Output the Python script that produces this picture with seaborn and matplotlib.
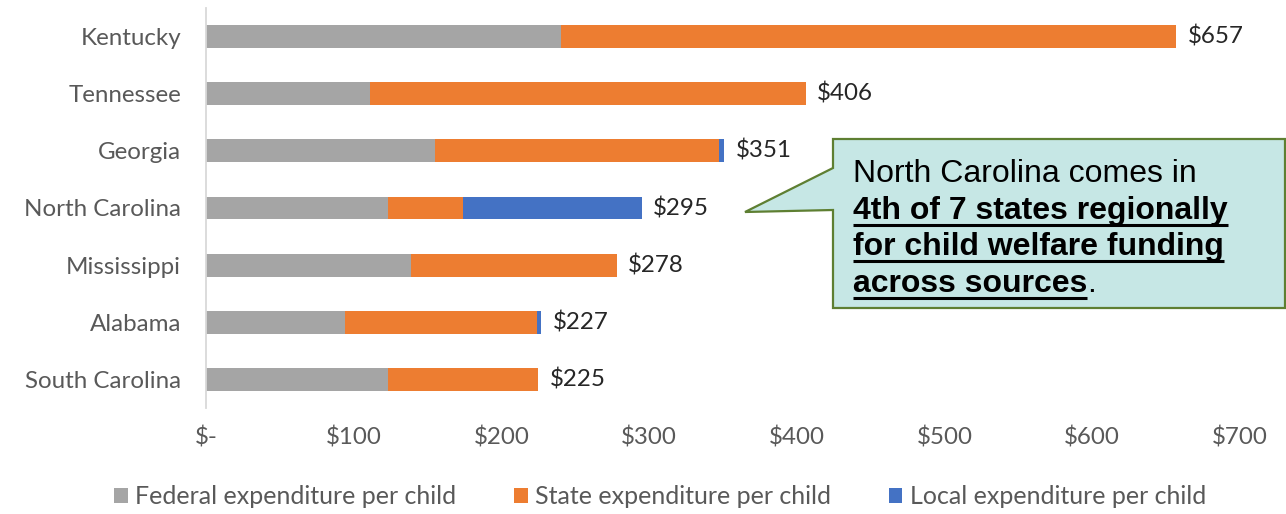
import matplotlib
matplotlib.use("Agg")
import matplotlib.pyplot as plt
import pandas as pd
import seaborn as sns
from matplotlib.patches import Patch, Polygon
from matplotlib.lines import Line2D

# Per-child child welfare expenditure by source, regional states
states = ["Kentucky", "Tennessee", "Georgia", "North Carolina",
          "Mississippi", "Alabama", "South Carolina"]
federal = [240, 111, 155, 123, 139, 94, 123]
state_exp = [417, 295, 192, 51, 139, 130, 102]
local = [0, 0, 4, 121, 0, 3, 0]
total_labels = [657, 406, 351, 295, 278, 227, 225]

x_ticks = [0, 100, 200, 300, 400, 500, 600, 700]
x_tick_labels = ["$-", "$100", "$200", "$300", "$400", "$500", "$600", "$700"]
series_names = ["Federal expenditure per child",
                "State expenditure per child",
                "Local expenditure per child"]

GRAY = "#A5A5A5"
ORANGE = "#ED7D31"
BLUE = "#4472C4"
TEXT = "#595959"
FS = 17.4

df = pd.DataFrame({"state": states, "federal": federal,
                   "state_exp": state_exp, "local": local})
df["fed_state"] = df["federal"] + df["state_exp"]
df["total"] = df["fed_state"] + df["local"]

sns.set_theme(style="white")
plt.rcParams["font.family"] = ["Lato", "DejaVu Sans"]

W, H = 1286, 514
fig = plt.figure(figsize=(W / 100, H / 100), dpi=100)
ax = fig.add_axes([206 / W, 1 - 408 / H, 1034 / W, 400 / H])

# Stacked bars drawn as overlapping cumulative totals
for col, colour in [("total", BLUE), ("fed_state", ORANGE), ("federal", GRAY)]:
    sns.barplot(data=df, y="state", x=col, order=states, color=colour,
                width=0.4, orient="h", ax=ax, saturation=1,
                linewidth=0, errorbar=None)

ax.bar_label(ax.containers[0], labels=[f"${v}" for v in total_labels],
             padding=8, fontsize=FS, color="#262626")

ax.set_xlim(0, 700)
ax.set_xticks(x_ticks)
ax.set_xticklabels(x_tick_labels)
ax.set_xlabel("")
ax.set_ylabel("")
ax.tick_params(axis="x", length=0, pad=13.5, labelsize=FS, labelcolor=TEXT)
ax.tick_params(axis="y", length=0, pad=18, labelsize=FS, labelcolor=TEXT)
for side in ["top", "right", "bottom"]:
    ax.spines[side].set_visible(False)
ax.spines["left"].set_color("#D9D9D9")
ax.spines["left"].set_linewidth(1.3)
ax.grid(False)

handles = [Patch(facecolor=c, edgecolor="none", label=n)
           for c, n in zip([GRAY, ORANGE, BLUE], series_names)]
fig.legend(handles=handles, loc="center", bbox_to_anchor=(660 / W, 1 - 497 / H),
           ncol=3, frameon=False, fontsize=18, handlelength=0.55,
           handleheight=0.55, handletextpad=0.3, columnspacing=2.3,
           labelcolor=TEXT)

# Callout box with pointer toward North Carolina's bar
pts = [(833, 139), (1285, 139), (1285, 308), (833, 308),
       (833, 210), (745, 212), (833, 168)]
poly = Polygon([(x / W, 1 - y / H) for x, y in pts], closed=True,
               transform=fig.transFigure, facecolor="#C6E7E5",
               edgecolor="#5E7F32", linewidth=1.6, zorder=5)
fig.add_artist(poly)

box_font = ["Liberation Sans", "DejaVu Sans"]
tx = 853 / W
lines = [("North Carolina comes in", "normal", False, 182),
         ("4th of 7 states regionally", "bold", True, 219),
         ("for child welfare funding", "bold", True, 255),
         ("across sources", "bold", True, 292)]
texts = []
for s, weight, under, base in lines:
    t = fig.text(tx, 1 - base / H, s, fontsize=23, fontweight=weight,
                 family=box_font, color="black", va="baseline", ha="left",
                 zorder=6)
    texts.append((t, under, base))

fig.canvas.draw()
renderer = fig.canvas.get_renderer()
last_bb = None
for t, under, base in texts:
    bb = t.get_window_extent(renderer)
    last_bb = bb
    if under:
        yl = 1 - (base + 6) / H
        fig.add_artist(Line2D([bb.x0 / W, bb.x1 / W], [yl, yl],
                              transform=fig.transFigure, color="black",
                              linewidth=2.2, solid_capstyle="butt", zorder=6))
fig.text(last_bb.x1 / W, 1 - 292 / H, ".", fontsize=23, family=box_font,
         color="black", va="baseline", ha="left", zorder=6)

fig.savefig("out.png", dpi=100)
